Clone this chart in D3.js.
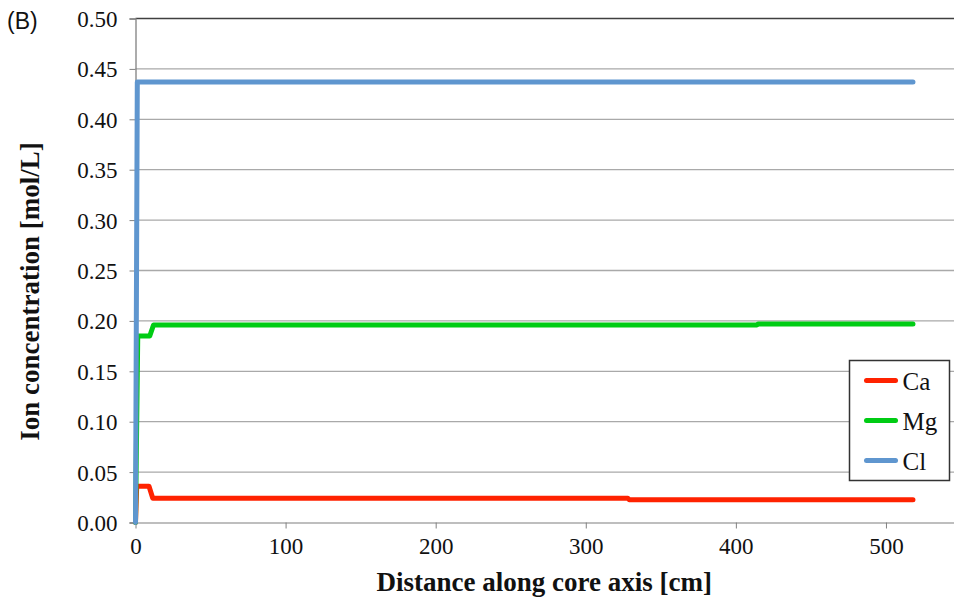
<!DOCTYPE html>
<html>
<head>
<meta charset="utf-8">
<script src="https://cdn.jsdelivr.net/npm/d3@7"></script>
<style>
  body { margin: 0; background: #fff; }
  svg { display: block; }
</style>
</head>
<body>
<div id="chart"></div>
<script>
// distance along core axis [cm] and ion concentration [mol/L]
const caDist = [0, 0.8, 9, 11.5, 328, 329, 518];
const caConc = [0, 0.036, 0.036, 0.024, 0.024, 0.0225, 0.0225];
const mgDist = [0, 1.5, 9.5, 12, 414, 415, 518];
const mgConc = [0, 0.185, 0.185, 0.196, 0.196, 0.197, 0.197];
const clDist = [0, 1.2, 518];
const clConc = [0, 0.437, 0.437];
const seriesNames = ["Ca", "Mg", "Cl"];
const seriesColors = ["#ff2200", "#00cc14", "#5f96cf"];
const yTicks = [0, 0.05, 0.10, 0.15, 0.20, 0.25, 0.30, 0.35, 0.40, 0.45, 0.50];
const xTicks = [0, 100, 200, 300, 400, 500];

const width = 954, height = 602;
const margin = {top: 18.5, right: -7, bottom: 79.5, left: 135.5};
const serif = "'Liberation Serif', 'Times New Roman', serif";

const svg = d3.select("#chart").append("svg")
    .attr("width", width)
    .attr("height", height);

const x = d3.scaleLinear()
    .domain([0, 550])
    .range([margin.left, width - margin.right]);
const y = d3.scaleLinear()
    .domain([0, 0.5])
    .range([height - margin.bottom, margin.top]);

// gridlines
svg.append("g")
    .selectAll("line")
    .data(yTicks.slice(1))
    .join("line")
    .attr("x1", x(0))
    .attr("x2", width)
    .attr("y1", d => y(d))
    .attr("y2", d => y(d))
    .attr("stroke", d => d === 0.5 ? "#404040" : "#a9a9a9")
    .attr("stroke-width", d => d === 0.5 ? 1.5 : 1.3);

// y axis
const yAxis = svg.append("g")
    .attr("transform", `translate(${x(0)},0)`)
    .call(d3.axisLeft(y).tickValues(yTicks).tickFormat(d3.format(".2f")).tickSize(6).tickPadding(12));
yAxis.attr("font-family", null).attr("font-size", null);
yAxis.select(".domain").attr("stroke", "#808080").attr("stroke-width", 1.3);
yAxis.selectAll(".tick line").attr("stroke", "#808080");
yAxis.selectAll("text")
    .style("font-family", serif)
    .style("font-size", "23px")
    .attr("dy", "0.35em")
    .attr("fill", "#111");

// x axis
const xAxis = svg.append("g")
    .attr("transform", `translate(0,${y(0)})`)
    .call(d3.axisBottom(x).tickValues(xTicks).tickSize(6).tickSizeOuter(0).tickPadding(9));
xAxis.attr("font-family", null).attr("font-size", null);
xAxis.select(".domain").attr("stroke", "#a9a9a9").attr("stroke-width", 1.3);
xAxis.selectAll(".tick line").attr("stroke", "#808080");
xAxis.selectAll("text")
    .style("font-family", serif)
    .style("font-size", "23px")
    .attr("fill", "#111");

// series
const series = [
    {name: seriesNames[0], dist: caDist, conc: caConc, color: seriesColors[0]},
    {name: seriesNames[1], dist: mgDist, conc: mgConc, color: seriesColors[1]},
    {name: seriesNames[2], dist: clDist, conc: clConc, color: seriesColors[2]}
];
const line = d3.line()
    .x(d => x(d[0]))
    .y(d => y(d[1]));

svg.append("g")
    .selectAll("path")
    .data(series)
    .join("path")
    .attr("d", s => line(s.dist.map((d, i) => [d, s.conc[i]])))
    .attr("fill", "none")
    .attr("stroke", s => s.color)
    .attr("stroke-width", 5)
    .attr("stroke-linejoin", "round")
    .attr("stroke-linecap", "round");

// legend
const legend = svg.append("g").attr("transform", "translate(849.5,360.5)");
legend.append("rect")
    .attr("width", 100)
    .attr("height", 120)
    .attr("fill", "#fff")
    .attr("stroke", "#333")
    .attr("stroke-width", 1.5);
const item = legend.selectAll("g.item")
    .data(series)
    .join("g")
    .attr("class", "item")
    .attr("transform", (d, i) => `translate(0,${20 + i * 40})`);
item.append("line")
    .attr("x1", 17).attr("x2", 46)
    .attr("stroke", d => d.color)
    .attr("stroke-width", 5)
    .attr("stroke-linecap", "round");
item.append("text")
    .attr("x", 53)
    .attr("y", 9)
    .style("font-family", serif)
    .style("font-size", "25px")
    .attr("fill", "#111")
    .text(d => d.name);

// titles
svg.append("text")
    .attr("x", (x(0) + 953) / 2)
    .attr("y", 591)
    .attr("text-anchor", "middle")
    .style("font-family", serif)
    .style("font-weight", "bold")
    .style("font-size", "27px")
    .attr("fill", "#111")
    .text("Distance along core axis [cm]");

svg.append("text")
    .attr("transform", `translate(39,${y(0.25) + 21}) rotate(-90)`)
    .attr("text-anchor", "middle")
    .style("font-family", serif)
    .style("font-weight", "bold")
    .style("font-size", "27px")
    .attr("fill", "#111")
    .text("Ion concentration [mol/L]");

svg.append("text")
    .attr("x", 7)
    .attr("y", 29)
    .style("font-family", "'Liberation Sans', Arial, sans-serif")
    .style("font-size", "23px")
    .attr("fill", "#111")
    .text("(B)");
</script>
</body>
</html>
